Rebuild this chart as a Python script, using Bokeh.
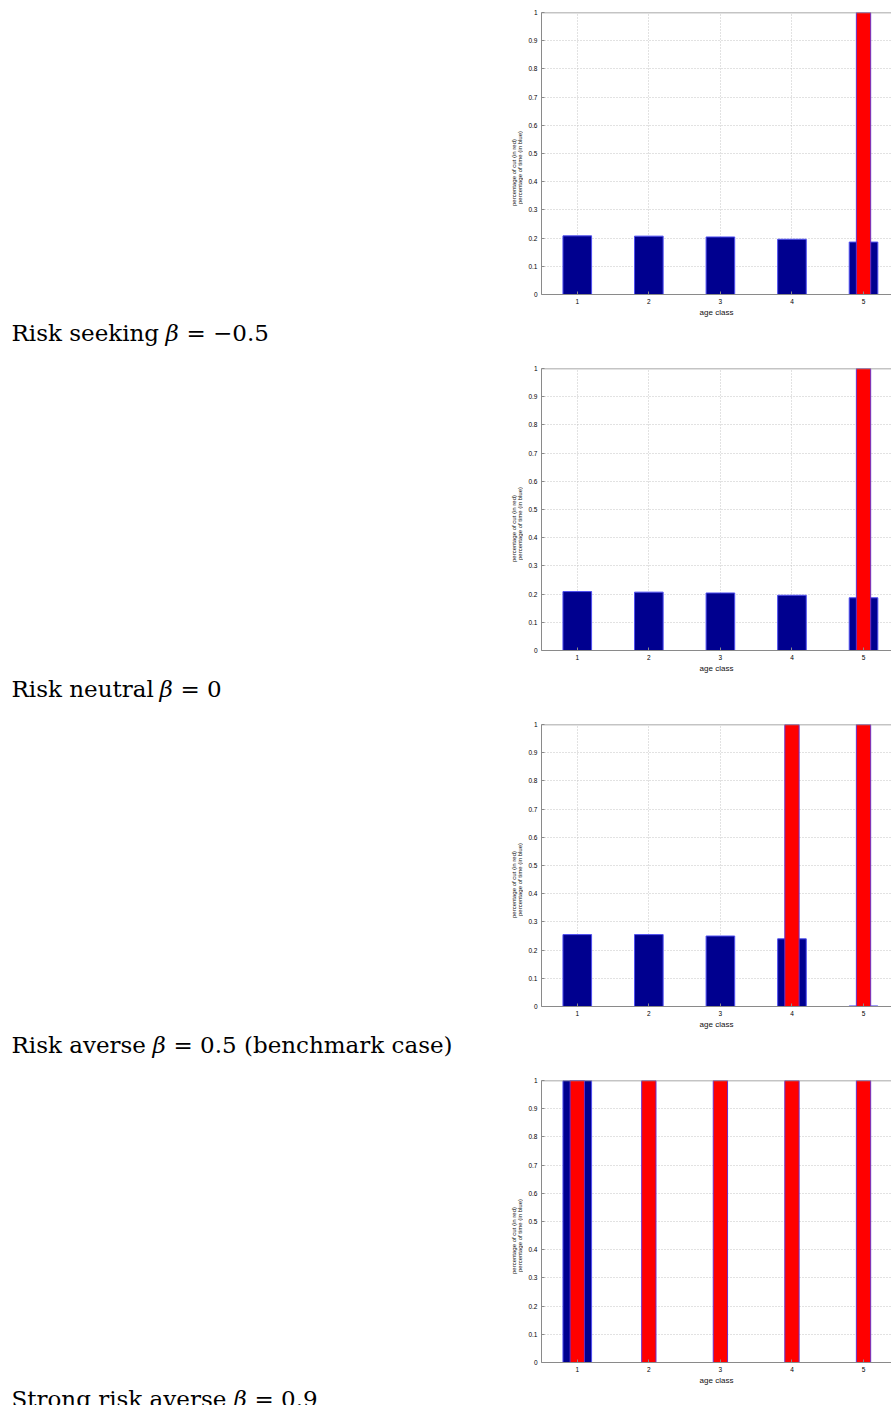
import math

from bokeh.core.properties import value
from bokeh.embed import file_html
from bokeh.layouts import column, row
from bokeh.models import FixedTicker, NumeralTickFormatter, Range1d, Span
from bokeh.plotting import figure
from bokeh.resources import INLINE

# ---- data -------------------------------------------------------------
age_classes = [1, 2, 3, 4, 5]
y_ticks = [0, 0.1, 0.2, 0.3, 0.4, 0.5, 0.6, 0.7, 0.8, 0.9, 1]

# share of time spent in each age class (blue) / share cut in each class (red)
time_seeking = [0.208, 0.207, 0.204, 0.196, 0.186]
cut_seeking = [0, 0, 0, 0, 1]
time_neutral = [0.209, 0.207, 0.204, 0.196, 0.187]
cut_neutral = [0, 0, 0, 0, 1]
time_averse = [0.255, 0.255, 0.250, 0.240, 0.002]
cut_averse = [0, 0, 0, 1, 1]
time_strong = [1, 0, 0, 0, 0]
cut_strong = [1, 1, 1, 1, 1]

case_names = ["Risk seeking", "Risk neutral", "Risk averse", "Strong risk averse"]
case_betas = ["= \u22120.5", "= 0", "= 0.5 (benchmark case)", "= 0.9"]

panels = [
    (time_seeking, cut_seeking),
    (time_neutral, cut_neutral),
    (time_averse, cut_averse),
    (time_strong, cut_strong),
]

# ---- layout constants --------------------------------------------------
WIN_W, WIN_H = 891, 1405
PANEL_H = 356
CAP_W = 523                 # width of the caption / axis-title strip
FRAME_LEFT = 541            # left edge of the bar frame on the page
FRAME_TOP = 12
FRAME_H = 282
FRAME_W = WIN_W - FRAME_LEFT
PX_PER_CLASS = 71.56
X0 = 0.5

# x positions (px) of caption pieces: name, beta, "= value"
name_x = 11
beta_x = [165, 159, 152, 233]
rest_x = [186, 180, 173, 254]
caption_baseline = [332, 332, 332, 330]

AXIS_GREY = "#8a8a8a"
SERIF = "DejaVu Serif"
SANS = "Liberation Sans"


def caption_strip(i, height):
    """Left strip: case caption plus the rotated y-axis titles."""
    c = figure(width=CAP_W, height=height,
               x_range=Range1d(0, CAP_W), y_range=Range1d(height, 0),
               output_backend="svg", toolbar_location=None,
               x_axis_location=None, y_axis_location=None,
               min_border=0, outline_line_color=None,
               frame_align=False)
    c.grid.visible = False

    y0 = caption_baseline[i]
    common = dict(text_font=value(SERIF), text_font_size="23px",
                  text_color="black", text_align="left",
                  text_baseline="alphabetic")
    c.text(x=[name_x], y=[y0], text=[case_names[i]], **common)
    c.text(x=[beta_x[i]], y=[y0], text=["\u03b2"],
           text_font_style="italic", **common)
    c.text(x=[rest_x[i]], y=[y0], text=[case_betas[i]], **common)

    ytitle = dict(text_font=value(SANS), text_font_size="6px",
                  text_color="#111111", text_align="center",
                  text_baseline="middle", angle=math.pi / 2)
    c.text(x=[513.5], y=[172], text=["percentage of cut (in red)"], **ytitle)
    c.text(x=[519.5], y=[167], text=["percentage of time (in blue)"], **ytitle)
    return c


def bar_panel(time_share, cut_share, height):
    p = figure(
        width=WIN_W - CAP_W,
        height=height,
        x_range=Range1d(X0, X0 + FRAME_W / PX_PER_CLASS),
        y_range=Range1d(0, 1),
        output_backend="svg",
        toolbar_location=None,
        min_border_left=FRAME_LEFT - CAP_W,
        min_border_right=0,
        min_border_top=FRAME_TOP,
        min_border_bottom=height - FRAME_TOP - FRAME_H,
        outline_line_color=None,
        frame_align=False,
    )

    p.vbar(x=age_classes, top=time_share, width=0.4,
           fill_color="#00008f", line_color="#5050f0", line_width=1)
    p.vbar(x=age_classes, top=cut_share, width=0.2,
           fill_color="#ff0000", line_color="#6a2fc8", line_width=1)

    for ax in (p.xaxis[0], p.yaxis[0]):
        ax.axis_line_color = AXIS_GREY
        ax.major_tick_line_color = AXIS_GREY
        ax.major_tick_in = 3
        ax.major_tick_out = 0
        ax.minor_tick_line_color = None
        ax.major_label_text_font = SANS
        ax.major_label_text_font_size = "6.5px"
        ax.major_label_text_color = "black"

    p.xaxis.ticker = FixedTicker(ticks=age_classes)
    p.xaxis.major_label_standoff = 4
    p.xaxis.axis_label = "age class"
    p.xaxis.axis_label_text_font = SANS
    p.xaxis.axis_label_text_font_size = "8px"
    p.xaxis.axis_label_text_font_style = "normal"
    p.xaxis.axis_label_text_color = "#111111"
    p.xaxis.axis_label_standoff = 1

    p.yaxis.ticker = FixedTicker(ticks=y_ticks)
    p.yaxis.formatter = NumeralTickFormatter(format="0.[0]")
    p.yaxis.major_label_standoff = 4

    # top edge of the box
    p.add_layout(Span(location=1, dimension="width",
                      line_color=AXIS_GREY, line_width=1.5))

    for g in (p.xgrid[0], p.ygrid[0]):
        g.grid_line_color = "#c4c4c4"
        g.grid_line_dash = "1 2"
        g.grid_line_width = 1
    p.xgrid.ticker = FixedTicker(ticks=age_classes)
    p.ygrid.ticker = FixedTicker(ticks=y_ticks)
    return p


rows = []
for i, (t, c) in enumerate(panels):
    h = PANEL_H if i < 3 else WIN_H - 3 * PANEL_H
    rows.append(row(caption_strip(i, h), bar_panel(t, c, h), spacing=0))

layout = column(*rows, spacing=0)

with open("out.html", "w") as f:
    f.write(file_html(layout, INLINE))
